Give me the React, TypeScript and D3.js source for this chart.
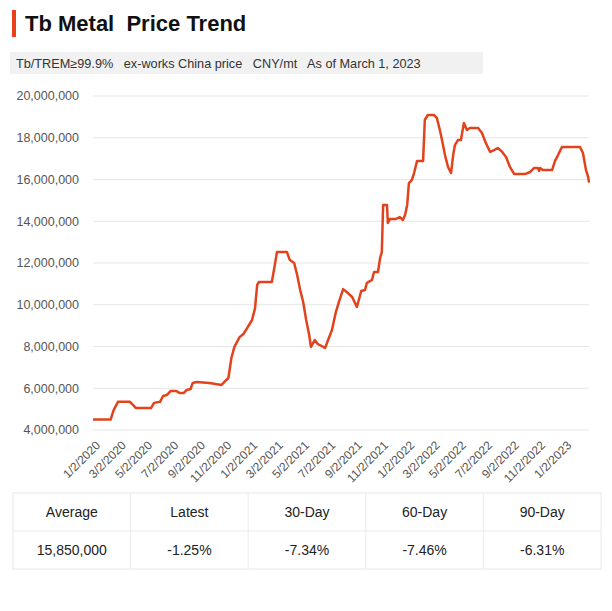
import React from "react";
import * as d3 from "d3";

const dates: string[] = [
  "2020-01-02","2020-02-12","2020-02-19","2020-02-29","2020-03-28","2020-04-04","2020-04-11","2020-05-16","2020-05-23","2020-06-06",
  "2020-06-13","2020-06-22","2020-07-01","2020-07-13","2020-07-22","2020-07-31","2020-08-07","2020-08-16","2020-08-21","2020-08-30",
  "2020-09-29","2020-10-27","2020-11-05","2020-11-12","2020-11-19","2020-11-26","2020-12-08","2020-12-17","2020-12-26","2021-01-06",
  "2021-01-13","2021-01-18","2021-01-22","2021-02-21","2021-02-28","2021-03-05","2021-03-28","2021-04-04","2021-04-14","2021-04-21",
  "2021-04-28","2021-05-05","2021-05-12","2021-05-19","2021-05-23","2021-06-01","2021-06-08","2021-06-25","2021-07-02","2021-07-11",
  "2021-07-20","2021-07-27","2021-08-06","2021-08-17","2021-08-27","2021-09-07","2021-09-17","2021-09-26","2021-09-30","2021-10-12",
  "2021-10-17","2021-10-26","2021-10-31","2021-11-04","2021-11-07","2021-11-16","2021-11-18","2021-11-23","2021-12-07","2021-12-16",
  "2021-12-23","2021-12-28","2022-01-02","2022-01-06","2022-01-13","2022-01-18","2022-01-25","2022-02-08","2022-02-12","2022-02-19",
  "2022-03-05","2022-03-12","2022-03-19","2022-03-24","2022-03-31","2022-04-07","2022-04-14","2022-04-19","2022-04-23","2022-04-30",
  "2022-05-07","2022-05-14","2022-05-21","2022-05-28","2022-06-16","2022-06-25","2022-07-04","2022-07-14","2022-07-23","2022-08-01",
  "2022-08-11","2022-08-20","2022-08-29","2022-09-08","2022-10-03","2022-10-15","2022-10-24","2022-11-02","2022-11-05","2022-11-07",
  "2022-11-14","2022-12-05","2022-12-12","2022-12-19","2022-12-28","2023-02-08","2023-02-15","2023-02-22","2023-02-27","2023-03-01",
];

const prices: number[] = [
  4500000,4500000,4950000,5350000,5350000,5200000,5050000,5050000,5300000,5350000,
  5630000,5680000,5870000,5870000,5770000,5770000,5920000,5960000,6250000,6300000,
  6250000,6160000,6350000,6490000,7450000,7980000,8450000,8600000,8890000,9270000,
  9840000,10950000,11090000,11090000,11900000,12530000,12530000,12140000,12000000,11430000,
  10710000,10130000,9270000,8550000,7980000,8310000,8120000,7930000,8310000,8790000,
  9650000,10130000,10750000,10560000,10370000,9890000,10660000,10710000,11040000,11190000,
  11570000,11570000,12240000,12530000,14780000,14780000,13920000,14110000,14110000,14200000,
  14060000,14300000,14780000,15830000,15980000,16310000,16890000,16890000,18850000,19090000,
  19090000,18950000,18370000,17890000,17170000,16600000,16310000,17170000,17650000,17890000,
  17890000,18710000,18370000,18470000,18470000,18230000,17750000,17320000,17410000,17510000,
  17320000,17080000,16600000,16260000,16260000,16360000,16550000,16550000,16410000,16550000,
  16450000,16450000,16890000,17170000,17560000,17560000,17270000,16450000,16120000,15850000,
];

const yTicks: number[] = [4000000, 6000000, 8000000, 10000000, 12000000, 14000000, 16000000, 18000000, 20000000];
const xTickLabels: string[] = [
  "1/2/2020","3/2/2020","5/2/2020","7/2/2020","9/2/2020","11/2/2020",
  "1/2/2021","3/2/2021","5/2/2021","7/2/2021","9/2/2021","11/2/2021",
  "1/2/2022","3/2/2022","5/2/2022","7/2/2022","9/2/2022","11/2/2022","1/2/2023",
];
const tableHeaders: string[] = ["Average", "Latest", "30-Day", "60-Day", "90-Day"];
const tableValues: string[] = ["15,850,000", "-1.25%", "-7.34%", "-7.46%", "-6.31%"];

const title = "Tb Metal  Price Trend";
const subtitle = "Tb/TREM\u226599.9%   ex-works China price   CNY/mt   As of March 1, 2023";

export default function App() {
  const W = 612, H = 611;
  const left = 93, right = 589, top = 96, bottom = 430;
  const parse = d3.timeParse("%Y-%m-%d");
  const parseTick = d3.timeParse("%m/%d/%Y");
  const data = dates.map((d, i) => ({ date: parse(d) as Date, v: prices[i] }));
  const x = d3.scaleTime()
    .domain([parse("2020-01-02") as Date, parse("2023-03-01") as Date])
    .range([left, right]);
  const y = d3.scaleLinear().domain([4000000, 20000000]).range([bottom, top]);
  const line = d3.line<{ date: Date; v: number }>()
    .x((d) => x(d.date))
    .y((d) => y(d.v))
    .curve(d3.curveLinear);
  const fmt = d3.format(",");
  const font = "'Liberation Sans', Arial, sans-serif";

  const tLeft = 13, tRight = 601, tTop = 493, tMid = 531, tBottom = 569;
  const colW = (tRight - tLeft) / tableHeaders.length;

  return (
    <svg width={W} height={H} style={{ position: "absolute", left: 0, top: 0, background: "#fff" }} fontFamily={font}>
      <rect x={0} y={0} width={W} height={H} fill="#fff" />
      <rect x={12} y={10} width={4} height={27} fill="#e8401c" />
      <text x={25} y={31} fontSize={22} fontWeight="bold" fill="#111" style={{ whiteSpace: "pre" }}>{title}</text>
      <rect x={10} y={52} width={473} height={22} fill="#f1f1f1" />
      <text x={16} y={68} fontSize={12.7} fill="#333" style={{ whiteSpace: "pre" }}>{subtitle}</text>

      {yTicks.map((t) => (
        <g key={t}>
          <line x1={left} x2={right} y1={y(t)} y2={y(t)} stroke="#e6e6e6" strokeWidth={1} />
          <text x={79} y={y(t)} dy="0.35em" textAnchor="end" fontSize={12.5} fill="#555">{fmt(t)}</text>
        </g>
      ))}

      {xTickLabels.map((lbl) => {
        const tx = x(parseTick(lbl) as Date);
        return (
          <text key={lbl} transform={`translate(${tx + 2},${bottom + 10}) rotate(-45)`} textAnchor="end" dy="0.71em" fontSize={12} fill="#555">{lbl}</text>
        );
      })}

      <path d={line(data) || ""} fill="none" stroke="#e2431c" strokeWidth={2.5} strokeLinejoin="round" />

      <rect x={tLeft} y={tTop} width={tRight - tLeft} height={tBottom - tTop} fill="#fff" stroke="#e8e8e8" />
      <line x1={tLeft} x2={tRight} y1={tMid} y2={tMid} stroke="#ececec" />
      {tableHeaders.map((h, i) => (
        <g key={h}>
          {i > 0 && <line x1={tLeft + colW * i} x2={tLeft + colW * i} y1={tTop} y2={tBottom} stroke="#ececec" />}
          <text x={tLeft + colW * (i + 0.5)} y={(tTop + tMid) / 2} dy="0.35em" textAnchor="middle" fontSize={14} fill="#222">{h}</text>
          <text x={tLeft + colW * (i + 0.5)} y={(tMid + tBottom) / 2} dy="0.35em" textAnchor="middle" fontSize={14} fill="#222">{tableValues[i]}</text>
        </g>
      ))}
    </svg>
  );
}
